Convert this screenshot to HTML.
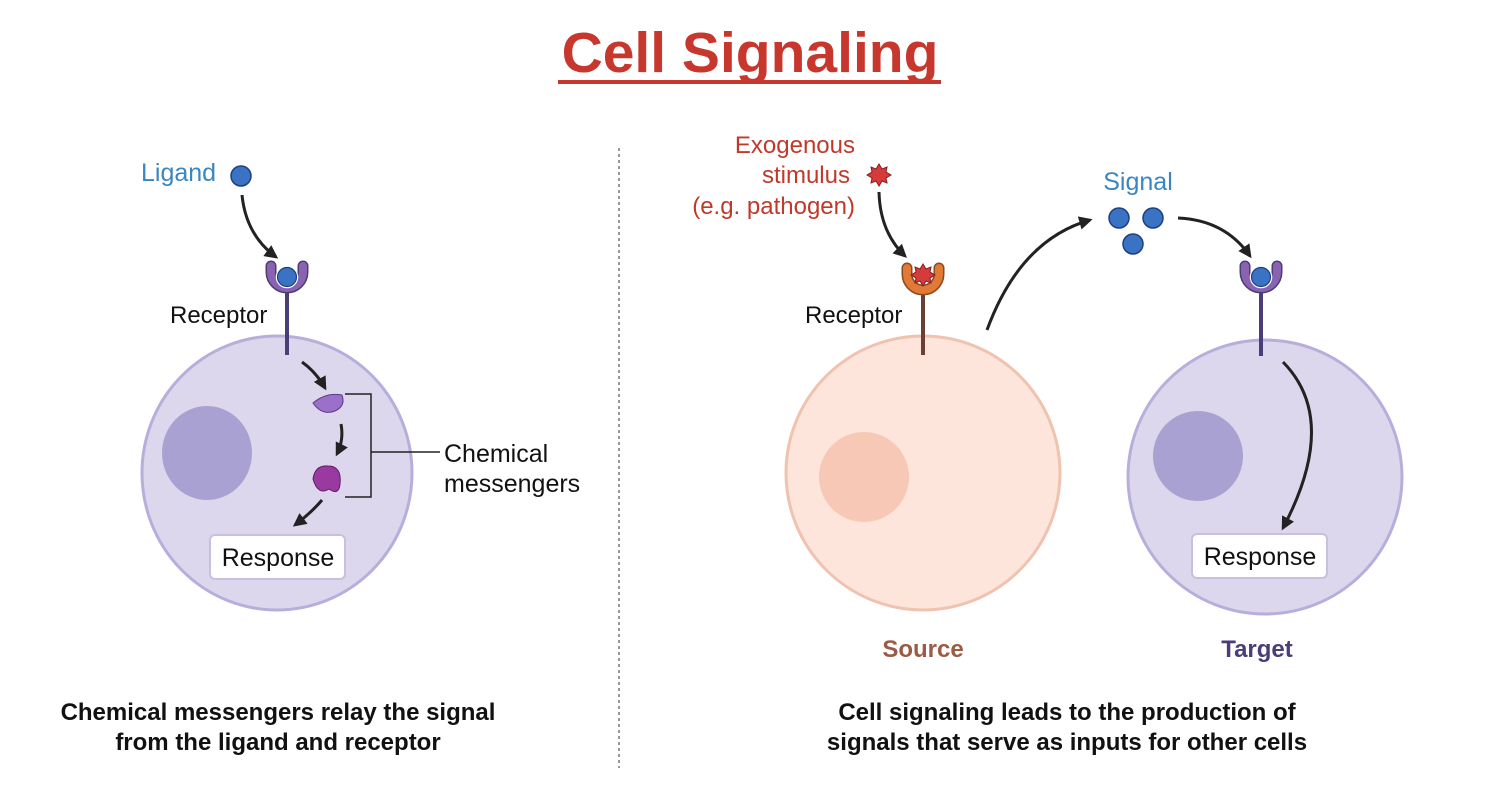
<!DOCTYPE html>
<html><head><meta charset="utf-8"><style>
html,body{margin:0;padding:0;background:#fff;}
svg{display:block;}
text{font-family:"Liberation Sans",sans-serif;}
</style></head><body>
<svg width="1500" height="786" viewBox="0 0 1500 786" xmlns="http://www.w3.org/2000/svg">
<defs>
<marker id="ah" viewBox="0 0 10 10" refX="8" refY="5" markerWidth="4.5" markerHeight="4.5" orient="auto"><path d="M0,0 L10,5 L0,10 z" fill="#222"/></marker>
<path id="u" d="M-16,-14 L-16,-8 A16,16 0 0 0 16,-8 L16,-14" fill="none" stroke-linecap="round"/>
</defs>
<text x="750" y="72" text-anchor="middle" font-size="57" font-weight="bold" fill="#c8372d">Cell Signaling</text>
<rect x="558" y="80" width="383" height="4" fill="#c8372d"/>
<line x1="619" y1="148" x2="619" y2="768" stroke="#555" stroke-width="1.2" stroke-dasharray="3,3"/>

<!-- LEFT -->
<text x="141" y="181" font-size="25" fill="#3a86c0">Ligand</text>
<circle cx="241" cy="176" r="10" fill="#3a72c4" stroke="#1e3f80" stroke-width="1.5"/>
<path d="M242,195 Q246,235 276,257" fill="none" stroke="#222" stroke-width="3" marker-end="url(#ah)"/>
<ellipse cx="277" cy="473" rx="135" ry="137" fill="#dcd7ec" stroke="#b8aedb" stroke-width="3"/>
<ellipse cx="207" cy="453" rx="45" ry="47" fill="#a9a1d1"/>
<line x1="287" y1="290" x2="287" y2="355" stroke="#4a3d78" stroke-width="4"/>
<g transform="translate(287,280)"><use href="#u" stroke="#4a3d78" stroke-width="11"/><use href="#u" stroke="#8a63b0" stroke-width="8"/></g>
<circle cx="287" cy="277" r="10.5" fill="#3a72c4" stroke="#fff" stroke-width="1.5"/>
<circle cx="287" cy="277" r="9.5" fill="none" stroke="#1e3f80" stroke-width="1.2"/>
<text x="170" y="323" font-size="24" fill="#111">Receptor</text>
<path d="M302,362 Q316,372 325,388" fill="none" stroke="#222" stroke-width="3" marker-end="url(#ah)"/>
<path d="M313,403 Q326,392 342,395 Q346,406 335,411 Q322,416 313,403 Z" fill="#9a70c8" stroke="#5a3a85" stroke-width="1"/>
<path d="M341,424 Q344,440 337,454" fill="none" stroke="#222" stroke-width="3" marker-end="url(#ah)"/>
<path d="M313,479 Q315,465 328,466 Q342,466 340,484 Q339,496 329,489 Q318,496 313,479 Z" fill="#9a3aa0" stroke="#5a1f65" stroke-width="1"/>
<path d="M322,500 Q312,512 295,525" fill="none" stroke="#222" stroke-width="3" marker-end="url(#ah)"/>
<path d="M345,394 H371 V497 H345 M371,452 H440" fill="none" stroke="#222" stroke-width="1.5"/>
<text x="444" y="462" font-size="25" fill="#111">Chemical</text>
<text x="444" y="492" font-size="25" fill="#111">messengers</text>
<rect x="210" y="535" width="135" height="44" rx="5" fill="#fff" stroke="#c8c0de" stroke-width="2"/>
<text x="278" y="566" text-anchor="middle" font-size="25" fill="#111">Response</text>
<text x="278" y="720" text-anchor="middle" font-size="24" font-weight="bold" fill="#111">Chemical messengers relay the signal</text>
<text x="278" y="750" text-anchor="middle" font-size="24" font-weight="bold" fill="#111">from the ligand and receptor</text>

<!-- RIGHT -->
<text x="855" y="153" text-anchor="end" font-size="24" fill="#c0392b">Exogenous</text>
<text x="850" y="183" text-anchor="end" font-size="24" fill="#c0392b">stimulus</text>
<text x="855" y="214" text-anchor="end" font-size="24" fill="#c0392b">(e.g. pathogen)</text>
<polygon points="879,164 882,169 887,167 886,172 891,175 886,178 887,183 882,181 879,186 876,181 871,183 872,178 867,175 872,172 871,167 876,169" fill="#d43b3b" stroke="#8a1c1c" stroke-width="1"/>
<path d="M879,192 Q880,232 905,256" fill="none" stroke="#222" stroke-width="3" marker-end="url(#ah)"/>
<ellipse cx="923" cy="473" rx="137" ry="137" fill="#fde5db" stroke="#f0c2b0" stroke-width="3"/>
<circle cx="864" cy="477" r="45" fill="#f7c8b5"/>
<line x1="923" y1="292" x2="923" y2="355" stroke="#6b4034" stroke-width="4"/>
<g transform="translate(923,282)"><use href="#u" stroke="#8a4a20" stroke-width="11"/><use href="#u" stroke="#e07a35" stroke-width="8"/></g>
<polygon points="923,264 926,269 931,267 930,272 935,275 930,278 931,283 926,281 923,286 920,281 915,283 916,278 911,275 916,272 915,267 920,269" fill="#d43b3b" stroke="#8a1c1c" stroke-width="1"/>
<text x="805" y="323" font-size="24" fill="#111">Receptor</text>
<path d="M987,330 Q1020,240 1090,220" fill="none" stroke="#222" stroke-width="3" marker-end="url(#ah)"/>
<text x="1138" y="190" text-anchor="middle" font-size="25" fill="#3a86c0">Signal</text>
<circle cx="1119" cy="218" r="10" fill="#3a72c4" stroke="#1e3f80" stroke-width="1.5"/>
<circle cx="1153" cy="218" r="10" fill="#3a72c4" stroke="#1e3f80" stroke-width="1.5"/>
<circle cx="1133" cy="244" r="10" fill="#3a72c4" stroke="#1e3f80" stroke-width="1.5"/>
<path d="M1178,218 Q1225,220 1250,256" fill="none" stroke="#222" stroke-width="3" marker-end="url(#ah)"/>
<ellipse cx="1265" cy="477" rx="137" ry="137" fill="#dcd7ec" stroke="#b8aedb" stroke-width="3"/>
<circle cx="1198" cy="456" r="45" fill="#a9a1d1"/>
<line x1="1261" y1="290" x2="1261" y2="356" stroke="#4a3d78" stroke-width="4"/>
<g transform="translate(1261,280)"><use href="#u" stroke="#4a3d78" stroke-width="11"/><use href="#u" stroke="#8a63b0" stroke-width="8"/></g>
<circle cx="1261" cy="277" r="10.5" fill="#3a72c4" stroke="#fff" stroke-width="1.5"/>
<circle cx="1261" cy="277" r="9.5" fill="none" stroke="#1e3f80" stroke-width="1.2"/>
<path d="M1283,362 Q1340,420 1283,528" fill="none" stroke="#222" stroke-width="3" marker-end="url(#ah)"/>
<rect x="1192" y="534" width="135" height="44" rx="5" fill="#fff" stroke="#c8c0de" stroke-width="2"/>
<text x="1260" y="565" text-anchor="middle" font-size="25" fill="#111">Response</text>
<text x="923" y="657" text-anchor="middle" font-size="24" font-weight="bold" fill="#9a5c45">Source</text>
<text x="1257" y="657" text-anchor="middle" font-size="24" font-weight="bold" fill="#4a3d78">Target</text>
<text x="1067" y="720" text-anchor="middle" font-size="24" font-weight="bold" fill="#111">Cell signaling leads to the production of</text>
<text x="1067" y="750" text-anchor="middle" font-size="24" font-weight="bold" fill="#111">signals that serve as inputs for other cells</text>
</svg>
</body></html>
